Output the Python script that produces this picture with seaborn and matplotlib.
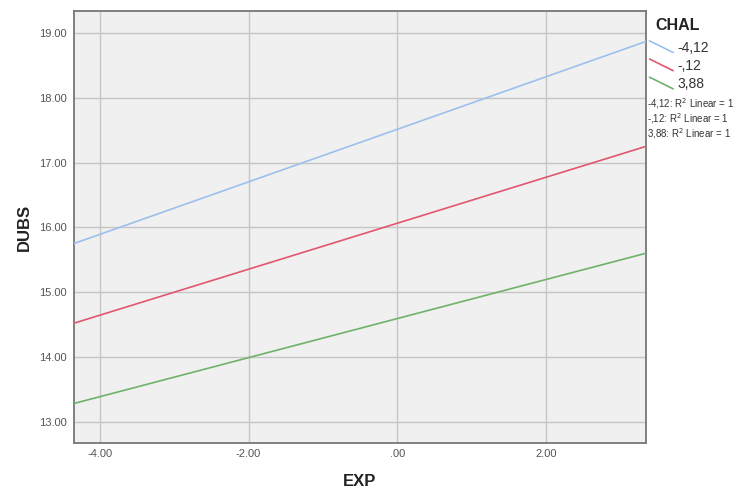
import matplotlib
matplotlib.use("Agg")
import matplotlib.pyplot as plt
from matplotlib.legend_handler import HandlerBase
from matplotlib.lines import Line2D
import seaborn as sns
import pandas as pd

# Fitted DUBS lines at the ends of the EXP range, one per CHAL level
exp_range = [-4.35, 3.35]
chal_levels = ["-4,12", "-,12", "3,88"]
dubs_low = [15.75, 14.52, 13.28]
dubs_high = [18.87, 17.25, 15.60]
r2_labels = ["-4,12: R$^2$ Linear = 1", "-,12: R$^2$ Linear = 1", "3,88: R$^2$ Linear = 1"]

x_ticks = [-4.0, -2.0, 0.0, 2.0]
x_ticklabels = ["-4.00", "-2.00", ".00", "2.00"]
y_ticks = [13, 14, 15, 16, 17, 18, 19]
y_ticklabels = ["13.00", "14.00", "15.00", "16.00", "17.00", "18.00", "19.00"]

palette = ["#9cc0ec", "#e2566f", "#6fb26a"]

rows = []
for lvl, lo, hi in zip(chal_levels, dubs_low, dubs_high):
    rows.append({"EXP": exp_range[0], "DUBS": lo, "CHAL": lvl})
    rows.append({"EXP": exp_range[1], "DUBS": hi, "CHAL": lvl})
df = pd.DataFrame(rows)

sns.set_style("white")
plt.rcParams["font.family"] = ["Liberation Sans", "DejaVu Sans"]

fig = plt.figure(figsize=(7.44, 4.93), dpi=100)
ax = fig.add_axes([74 / 744, 1 - 443 / 493, (646 - 74) / 744, (443 - 11) / 493])
ax.set_facecolor("#f0f0f0")

sns.lineplot(data=df, x="EXP", y="DUBS", hue="CHAL", hue_order=chal_levels,
             palette=palette, linewidth=1.2, ax=ax, legend=False, zorder=3)

ax.set_xlim(exp_range)
ax.set_ylim(12.67, 19.34)
ax.set_xticks(x_ticks)
ax.set_xticklabels(x_ticklabels)
ax.set_yticks(y_ticks)
ax.set_yticklabels(y_ticklabels)
ax.grid(True, color="#c6c6c6", linewidth=1.0, zorder=0)
ax.set_axisbelow(True)
for side, sp in ax.spines.items():
    sp.set_visible(True)
    sp.set_color("#777777")
    sp.set_linewidth(1.3)
ax.tick_params(axis="x", length=0, labelsize=8, labelcolor="#555555", pad=4)
ax.tick_params(axis="y", length=0, labelsize=8, labelcolor="#555555", pad=5)
ax.set_xlabel("EXP", fontsize=12, fontweight="bold", color="#222222", labelpad=11)
ax.set_ylabel("DUBS", fontsize=12, fontweight="bold", color="#222222", labelpad=5)


class SlantHandler(HandlerBase):
    def create_artists(self, legend, orig_handle, xdescent, ydescent,
                       width, height, fontsize, trans):
        ln = Line2D([-xdescent, width - xdescent],
                    [height * 1.1 - ydescent, -0.1 * height - ydescent],
                    color=orig_handle.get_color(), linewidth=1.2)
        ln.set_transform(trans)
        return [ln]


fig.text(655 / 744, 1 - 25 / 493, "CHAL", fontsize=11.5, fontweight="bold",
         color="#222222", ha="left", va="center")

handles = [Line2D([], [], color=c) for c in palette]
leg = fig.legend(handles, chal_levels, loc="upper left",
                 bbox_to_anchor=(644 / 744, 1 - 35 / 493), frameon=False,
                 fontsize=10, handlelength=1.7, handletextpad=0.3,
                 labelspacing=0.3, borderaxespad=0,
                 handler_map={Line2D: SlantHandler()})
for t in leg.get_texts():
    t.set_color("#333333")

for i, txt in enumerate(r2_labels):
    fig.text(647 / 744, 1 - (104 + 15 * i) / 493, txt, fontsize=7,
             color="#333333", va="center", ha="left")

fig.savefig("out.png", dpi=100)
